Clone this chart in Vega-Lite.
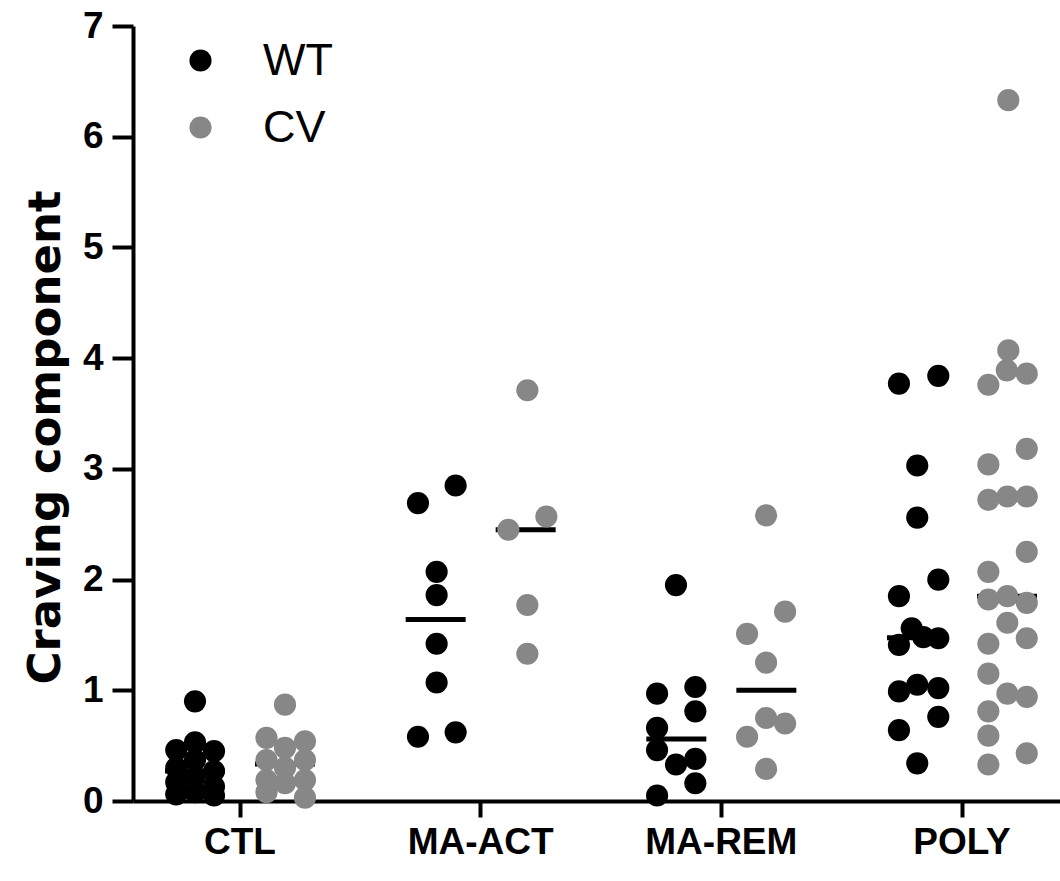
{
  "$schema": "https://vega.github.io/schema/vega-lite/v6.json",
  "width": 927,
  "height": 775,
  "autosize": {"type": "none"},
  "padding": {"left": 133, "top": 26, "right": 0, "bottom": 80},
  "background": "white",
  "config": {"view": {"stroke": null}, "font": "Liberation Sans"},
  "data": {"values": [
    {"cond": "CTL", "group": "WT", "value": 0.90, "dx": -3.74},
    {"cond": "CTL", "group": "WT", "value": 0.53, "dx": -3.74},
    {"cond": "CTL", "group": "WT", "value": 0.46, "dx": -5.3},
    {"cond": "CTL", "group": "WT", "value": 0.45, "dx": -2.16},
    {"cond": "CTL", "group": "WT", "value": 0.37, "dx": -3.74},
    {"cond": "CTL", "group": "WT", "value": 0.30, "dx": -5.3},
    {"cond": "CTL", "group": "WT", "value": 0.27, "dx": -2.16},
    {"cond": "CTL", "group": "WT", "value": 0.22, "dx": -3.74},
    {"cond": "CTL", "group": "WT", "value": 0.17, "dx": -5.3},
    {"cond": "CTL", "group": "WT", "value": 0.13, "dx": -2.16},
    {"cond": "CTL", "group": "WT", "value": 0.08, "dx": -3.74},
    {"cond": "CTL", "group": "WT", "value": 0.06, "dx": -5.3},
    {"cond": "CTL", "group": "WT", "value": 0.05, "dx": -2.16},
    {"cond": "CTL", "group": "CV", "value": 0.87, "dx": 3.74},
    {"cond": "CTL", "group": "CV", "value": 0.57, "dx": 2.2},
    {"cond": "CTL", "group": "CV", "value": 0.54, "dx": 5.4},
    {"cond": "CTL", "group": "CV", "value": 0.48, "dx": 3.74},
    {"cond": "CTL", "group": "CV", "value": 0.37, "dx": 2.2},
    {"cond": "CTL", "group": "CV", "value": 0.37, "dx": 5.4},
    {"cond": "CTL", "group": "CV", "value": 0.30, "dx": 3.74},
    {"cond": "CTL", "group": "CV", "value": 0.19, "dx": 2.2},
    {"cond": "CTL", "group": "CV", "value": 0.19, "dx": 5.4},
    {"cond": "CTL", "group": "CV", "value": 0.16, "dx": 3.74},
    {"cond": "CTL", "group": "CV", "value": 0.08, "dx": 2.2},
    {"cond": "CTL", "group": "CV", "value": 0.03, "dx": 5.4},
    {"cond": "MA-ACT", "group": "WT", "value": 2.85, "dx": -2.08},
    {"cond": "MA-ACT", "group": "WT", "value": 2.69, "dx": -5.21},
    {"cond": "MA-ACT", "group": "WT", "value": 2.07, "dx": -3.66},
    {"cond": "MA-ACT", "group": "WT", "value": 1.86, "dx": -3.66},
    {"cond": "MA-ACT", "group": "WT", "value": 1.42, "dx": -3.66},
    {"cond": "MA-ACT", "group": "WT", "value": 1.07, "dx": -3.66},
    {"cond": "MA-ACT", "group": "WT", "value": 0.58, "dx": -5.21},
    {"cond": "MA-ACT", "group": "WT", "value": 0.62, "dx": -2.08},
    {"cond": "MA-ACT", "group": "CV", "value": 3.71, "dx": 3.88},
    {"cond": "MA-ACT", "group": "CV", "value": 2.57, "dx": 5.46},
    {"cond": "MA-ACT", "group": "CV", "value": 2.45, "dx": 2.3},
    {"cond": "MA-ACT", "group": "CV", "value": 1.77, "dx": 3.88},
    {"cond": "MA-ACT", "group": "CV", "value": 1.33, "dx": 3.88},
    {"cond": "MA-REM", "group": "WT", "value": 1.95, "dx": -3.77},
    {"cond": "MA-REM", "group": "WT", "value": 0.97, "dx": -5.34},
    {"cond": "MA-REM", "group": "WT", "value": 1.03, "dx": -2.16},
    {"cond": "MA-REM", "group": "WT", "value": 0.81, "dx": -2.16},
    {"cond": "MA-REM", "group": "WT", "value": 0.66, "dx": -5.34},
    {"cond": "MA-REM", "group": "WT", "value": 0.46, "dx": -5.34},
    {"cond": "MA-REM", "group": "WT", "value": 0.38, "dx": -2.16},
    {"cond": "MA-REM", "group": "WT", "value": 0.33, "dx": -3.77},
    {"cond": "MA-REM", "group": "WT", "value": 0.16, "dx": -2.16},
    {"cond": "MA-REM", "group": "WT", "value": 0.05, "dx": -5.34},
    {"cond": "MA-REM", "group": "CV", "value": 2.58, "dx": 3.72},
    {"cond": "MA-REM", "group": "CV", "value": 1.71, "dx": 5.3},
    {"cond": "MA-REM", "group": "CV", "value": 1.51, "dx": 2.14},
    {"cond": "MA-REM", "group": "CV", "value": 1.25, "dx": 3.72},
    {"cond": "MA-REM", "group": "CV", "value": 0.75, "dx": 3.72},
    {"cond": "MA-REM", "group": "CV", "value": 0.70, "dx": 5.3},
    {"cond": "MA-REM", "group": "CV", "value": 0.58, "dx": 2.14},
    {"cond": "MA-REM", "group": "CV", "value": 0.29, "dx": 3.72},
    {"cond": "POLY", "group": "WT", "value": 3.77, "dx": -5.24},
    {"cond": "POLY", "group": "WT", "value": 3.84, "dx": -1.97},
    {"cond": "POLY", "group": "WT", "value": 3.03, "dx": -3.72},
    {"cond": "POLY", "group": "WT", "value": 2.56, "dx": -3.72},
    {"cond": "POLY", "group": "WT", "value": 2.00, "dx": -1.97},
    {"cond": "POLY", "group": "WT", "value": 1.85, "dx": -5.24},
    {"cond": "POLY", "group": "WT", "value": 1.56, "dx": -4.18},
    {"cond": "POLY", "group": "WT", "value": 1.48, "dx": -3.22},
    {"cond": "POLY", "group": "WT", "value": 1.47, "dx": -1.97},
    {"cond": "POLY", "group": "WT", "value": 1.41, "dx": -5.24},
    {"cond": "POLY", "group": "WT", "value": 1.05, "dx": -3.72},
    {"cond": "POLY", "group": "WT", "value": 1.02, "dx": -1.97},
    {"cond": "POLY", "group": "WT", "value": 0.99, "dx": -5.24},
    {"cond": "POLY", "group": "WT", "value": 0.76, "dx": -1.97},
    {"cond": "POLY", "group": "WT", "value": 0.64, "dx": -5.24},
    {"cond": "POLY", "group": "WT", "value": 0.34, "dx": -3.72},
    {"cond": "POLY", "group": "CV", "value": 6.33, "dx": 3.85},
    {"cond": "POLY", "group": "CV", "value": 4.07, "dx": 3.85},
    {"cond": "POLY", "group": "CV", "value": 3.89, "dx": 3.72},
    {"cond": "POLY", "group": "CV", "value": 3.86, "dx": 5.38},
    {"cond": "POLY", "group": "CV", "value": 3.76, "dx": 2.19},
    {"cond": "POLY", "group": "CV", "value": 3.18, "dx": 5.38},
    {"cond": "POLY", "group": "CV", "value": 3.04, "dx": 2.19},
    {"cond": "POLY", "group": "CV", "value": 2.75, "dx": 3.77},
    {"cond": "POLY", "group": "CV", "value": 2.75, "dx": 5.38},
    {"cond": "POLY", "group": "CV", "value": 2.72, "dx": 2.19},
    {"cond": "POLY", "group": "CV", "value": 2.25, "dx": 5.38},
    {"cond": "POLY", "group": "CV", "value": 2.07, "dx": 2.19},
    {"cond": "POLY", "group": "CV", "value": 1.85, "dx": 3.77},
    {"cond": "POLY", "group": "CV", "value": 1.82, "dx": 2.19},
    {"cond": "POLY", "group": "CV", "value": 1.79, "dx": 5.38},
    {"cond": "POLY", "group": "CV", "value": 1.61, "dx": 3.77},
    {"cond": "POLY", "group": "CV", "value": 1.47, "dx": 5.38},
    {"cond": "POLY", "group": "CV", "value": 1.42, "dx": 2.19},
    {"cond": "POLY", "group": "CV", "value": 1.15, "dx": 2.19},
    {"cond": "POLY", "group": "CV", "value": 0.97, "dx": 3.77},
    {"cond": "POLY", "group": "CV", "value": 0.94, "dx": 5.38},
    {"cond": "POLY", "group": "CV", "value": 0.81, "dx": 2.19},
    {"cond": "POLY", "group": "CV", "value": 0.59, "dx": 2.19},
    {"cond": "POLY", "group": "CV", "value": 0.43, "dx": 5.38},
    {"cond": "POLY", "group": "CV", "value": 0.33, "dx": 2.19}
  ]},
  "layer": [
    {
      "transform": [
        {"aggregate": [{"op": "median", "field": "value", "as": "median"}], "groupby": ["cond", "group"]}
      ],
      "mark": {"type": "tick", "orient": "horizontal", "size": 60, "thickness": 5, "color": "#000000", "opacity": 1},
      "encoding": {
        "x": {"field": "cond", "type": "nominal",
              "scale": {"domain": ["CTL", "MA-ACT", "MA-REM", "POLY"], "paddingInner": 0.2, "paddingOuter": 0.0259, "align": 0.861}},
        "xOffset": {"field": "group", "type": "nominal",
                    "scale": {"domain": ["WT", "CV"], "paddingInner": 0, "paddingOuter": 0.0694}},
        "y": {"field": "median", "type": "quantitative", "scale": {"domain": [0, 7], "nice": false}}
      }
    },
    {
      "mark": {"type": "circle", "size": 490, "opacity": 1, "strokeWidth": 0},
      "encoding": {
        "x": {"field": "cond", "type": "nominal",
              "scale": {"domain": ["CTL", "MA-ACT", "MA-REM", "POLY"], "paddingInner": 0.2, "paddingOuter": 0.0259, "align": 0.861},
              "axis": {"title": null, "labelAngle": 0, "labelAlign": "center", "labelBaseline": "top",
                       "tickSize": 16, "tickWidth": 4, "tickColor": "#000000",
                       "domainWidth": 4, "domainColor": "#000000", "labelFontSize": 37, "labelFontWeight": "bold",
                       "labelColor": "#000000", "labelPadding": 7, "labelFont": "Liberation Sans"}},
        "xOffset": {"field": "dx", "type": "quantitative", "scale": {"domain": [-8, 8], "nice": false, "zero": false}},
        "y": {"field": "value", "type": "quantitative", "scale": {"domain": [0, 7], "nice": false},
              "axis": {"title": "Craving component", "values": [0, 1, 2, 3, 4, 5, 6, 7], "format": "d", "grid": false,
                       "tickSize": 21, "tickWidth": 4, "tickColor": "#000000", "domainWidth": 4, "domainColor": "#000000",
                       "labelFontSize": 37, "labelFontWeight": "bold", "labelColor": "#000000", "labelPadding": 9,
                       "labelFlush": false, "labelOverlap": false, "labelFont": "Liberation Sans",
                       "titleFontSize": 45, "titleFontWeight": "bold", "titleColor": "#000000", "titlePadding": 14,
                       "titleFont": "DejaVu Sans", "titleY": 411}},
        "color": {"field": "group", "type": "nominal",
                  "scale": {"domain": ["WT", "CV"], "range": ["#000000", "#878787"]},
                  "legend": {"title": null, "orient": "none", "legendX": 45, "legendY": 12,
                             "symbolSize": 490, "symbolType": "circle", "symbolStrokeWidth": 0,
                             "labelFontSize": 45, "labelFont": "Liberation Sans", "labelColor": "#000000",
                             "labelOffset": 40, "rowPadding": 21, "padding": 0}}
      }
    }
  ],
  "resolve": {"scale": {"xOffset": "independent"}}
}
